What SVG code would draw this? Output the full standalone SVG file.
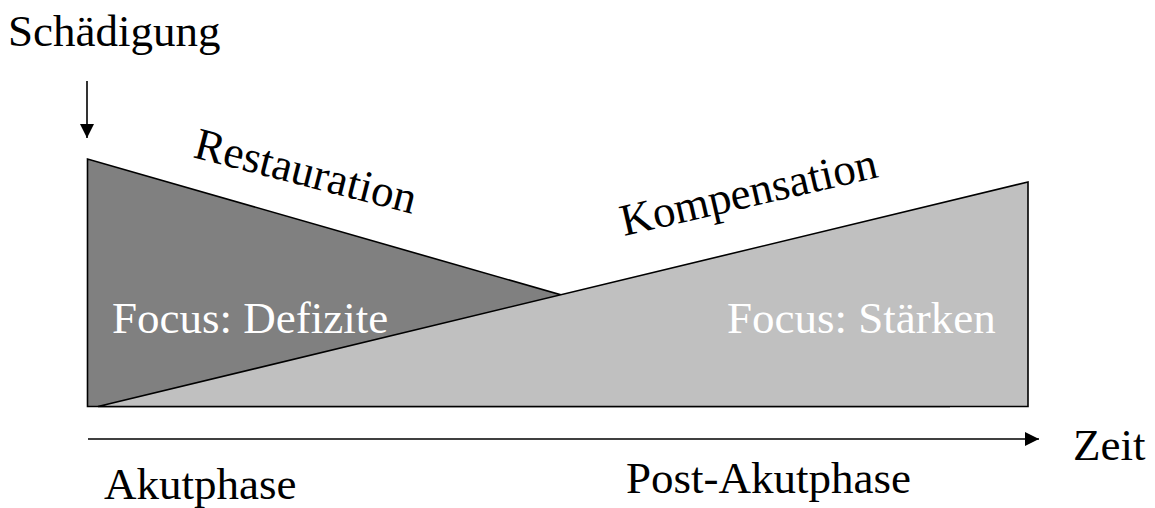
<svg xmlns="http://www.w3.org/2000/svg" width="1155" height="508" viewBox="0 0 1155 508">
<style>
.t{font-family:"Liberation Serif","Times New Roman",serif;font-size:45px;fill:#000}
.w{fill:#fff}
.sh{stroke:#000;stroke-width:1.6;stroke-linejoin:miter}
</style>
<defs>
<marker id="ah" viewBox="0 0 10 10" refX="10" refY="5" markerWidth="14" markerHeight="14" markerUnits="userSpaceOnUse" orient="auto"><path d="M0,0 L10,5 L0,10 z" fill="#000"/></marker>
</defs>
<rect width="1155" height="508" fill="#fff"/>
<g id="restauration-shape"><polygon class="sh" points="87.5,159 87.5,406.5 950,406.5" fill="#808080"/></g>
<g id="kompensation-shape"><polygon class="sh" points="98,406.5 1028,182 1028,406.5" fill="#c0c0c0"/></g>
<g id="connectors" stroke="#000" stroke-width="1.6" fill="none">
<line x1="87" y1="81" x2="87" y2="138" marker-end="url(#ah)"/>
<line x1="88" y1="439" x2="1039" y2="439" marker-end="url(#ah)"/>
</g>
<g id="labels">
<text class="t" x="8" y="46">Schädigung</text>
<text class="t" transform="translate(192,157) rotate(14.5)">Restauration</text>
<text class="t" transform="translate(624,236) rotate(-13)">Kompensation</text>
<text class="t w" x="112" y="333">Focus: Defizite</text>
<text class="t w" x="727" y="333">Focus: Stärken</text>
<text class="t" x="1073" y="460">Zeit</text>
<text class="t" x="104" y="499">Akutphase</text>
<text class="t" x="626" y="493">Post-Akutphase</text>
</g>
</svg>
